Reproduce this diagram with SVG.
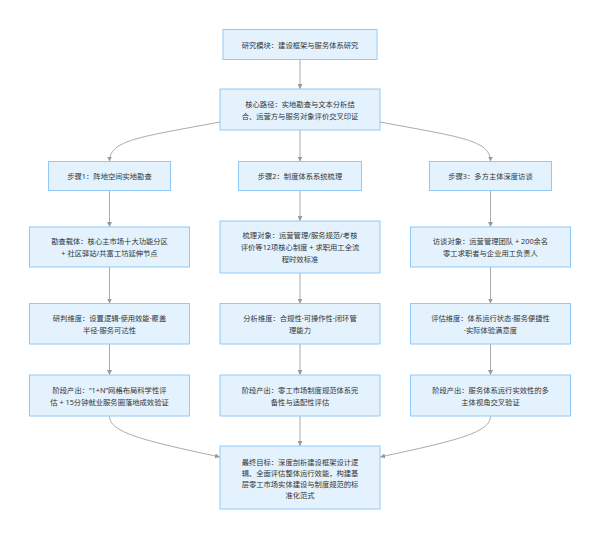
<svg xmlns="http://www.w3.org/2000/svg" width="600" height="539" viewBox="0 0 600 539">
<defs>
<style>
.box{fill:#e3f2fd;stroke:#90caf9;stroke-width:1}
.t{font-family:"Noto Sans","Noto Sans CJK SC",sans-serif;font-size:7.3px;fill:#333;text-anchor:middle;dominant-baseline:central}
.e{fill:none;stroke:#aaa;stroke-width:1}
</style>
<marker id="ah" viewBox="0 0 10 10" refX="10" refY="5" markerWidth="5" markerHeight="5" orient="auto" markerUnits="userSpaceOnUse">
<path d="M0,0 L10,5 L0,10 z" fill="#999"/>
</marker>
</defs>
<rect width="600" height="539" fill="#fff"/>
<g id="connectors">
<path class="e" d="M300,59.5 L300,89" marker-end="url(#ah)"/>
<path class="e" d="M300,130 L300,161.5" marker-end="url(#ah)"/>
<path class="e" d="M220,122 C140,137 109.5,140 109.5,161.5" marker-end="url(#ah)"/>
<path class="e" d="M380,122 C460,137 490.5,140 490.5,161.5" marker-end="url(#ah)"/>
<path class="e" d="M109.5,190.5 L109.5,227" marker-end="url(#ah)"/>
<path class="e" d="M300,190.5 L300,221" marker-end="url(#ah)"/>
<path class="e" d="M490.5,190.5 L490.5,227" marker-end="url(#ah)"/>
<path class="e" d="M109.5,267 L109.5,303.5" marker-end="url(#ah)"/>
<path class="e" d="M300,273 L300,303.5" marker-end="url(#ah)"/>
<path class="e" d="M490.5,267 L490.5,303.5" marker-end="url(#ah)"/>
<path class="e" d="M109.5,344 L109.5,375" marker-end="url(#ah)"/>
<path class="e" d="M300,344 L300,375" marker-end="url(#ah)"/>
<path class="e" d="M490.5,344 L490.5,375" marker-end="url(#ah)"/>
<path class="e" d="M109.5,416 C109.5,432 140,440 220,457" marker-end="url(#ah)"/>
<path class="e" d="M300,416 L300,446" marker-end="url(#ah)"/>
<path class="e" d="M490.5,416 C490.5,432 460,440 380,457" marker-end="url(#ah)"/>
</g>
<g id="n0"><rect class="box" x="223" y="29.5" width="154" height="30"/><text class="t" x="300" y="44.5">研究模块：建设框架与服务体系研究</text></g>
<g id="n1"><rect class="box" x="220" y="89" width="160" height="41"/><text class="t" x="300" y="103.5">核心路径：实地勘查与文本分析结</text><text class="t" x="300" y="115.5">合、运营方与服务对象评价交叉印证</text></g>
<g id="s1"><rect class="box" x="48.5" y="161.5" width="122" height="29"/><text class="t" x="109.5" y="176">步骤1：阵地空间实地勘查</text></g>
<g id="s2"><rect class="box" x="238.5" y="161.5" width="123" height="29"/><text class="t" x="300" y="176">步骤2：制度体系系统梳理</text></g>
<g id="s3"><rect class="box" x="429.5" y="161.5" width="122" height="29"/><text class="t" x="490.5" y="176">步骤3：多方主体深度访谈</text></g>
<g id="l2"><rect class="box" x="29.5" y="227" width="160" height="40"/><text class="t" x="109.5" y="241">勘查载体：核心主市场十大功能分区</text><text class="t" x="109.5" y="253">+ 社区驿站/共富工坊延伸节点</text></g>
<g id="m2"><rect class="box" x="220" y="221" width="160" height="52"/><text class="t" x="300" y="235">梳理对象：运营管理/服务规范/考核</text><text class="t" x="300" y="247">评价等12项核心制度 + 求职用工全流</text><text class="t" x="300" y="259">程时效标准</text></g>
<g id="r2"><rect class="box" x="410.5" y="227" width="160" height="40"/><text class="t" x="490.5" y="241">访谈对象：运营管理团队 + 200余名</text><text class="t" x="490.5" y="253">零工求职者与企业用工负责人</text></g>
<g id="l3"><rect class="box" x="29.5" y="303.5" width="160" height="40.5"/><text class="t" x="109.5" y="317.5">研判维度：设置逻辑·使用效能·覆盖</text><text class="t" x="109.5" y="329.5">半径·服务可达性</text></g>
<g id="m3"><rect class="box" x="220" y="303.5" width="160" height="40.5"/><text class="t" x="300" y="317.5">分析维度：合规性·可操作性·闭环管</text><text class="t" x="300" y="329.5">理能力</text></g>
<g id="r3"><rect class="box" x="410.5" y="303.5" width="160" height="40.5"/><text class="t" x="490.5" y="317.5">评估维度：体系运行状态·服务便捷性</text><text class="t" x="490.5" y="329.5">·实际体验满意度</text></g>
<g id="l4"><rect class="box" x="29.5" y="375" width="160" height="41"/><text class="t" x="109.5" y="389.5">阶段产出：“1+N”网格布局科学性评</text><text class="t" x="109.5" y="401.5">估 + 15分钟就业服务圈落地成效验证</text></g>
<g id="m4"><rect class="box" x="220" y="375" width="160" height="41"/><text class="t" x="300" y="389.5">阶段产出：零工市场制度规范体系完</text><text class="t" x="300" y="401.5">备性与适配性评估</text></g>
<g id="r4"><rect class="box" x="410.5" y="375" width="160" height="41"/><text class="t" x="490.5" y="389.5">阶段产出：服务体系运行实效性的多</text><text class="t" x="490.5" y="401.5">主体视角交叉验证</text></g>
<g id="fin"><rect class="box" x="220" y="446" width="160" height="63"/><text class="t" x="300" y="461.5">最终目标：深度剖析建设框架设计逻</text><text class="t" x="300" y="472.5">辑、全面评估整体运行效能，构建基</text><text class="t" x="300" y="483.5">层零工市场实体建设与制度规范的标</text><text class="t" x="300" y="494.5">准化范式</text></g>
</svg>
